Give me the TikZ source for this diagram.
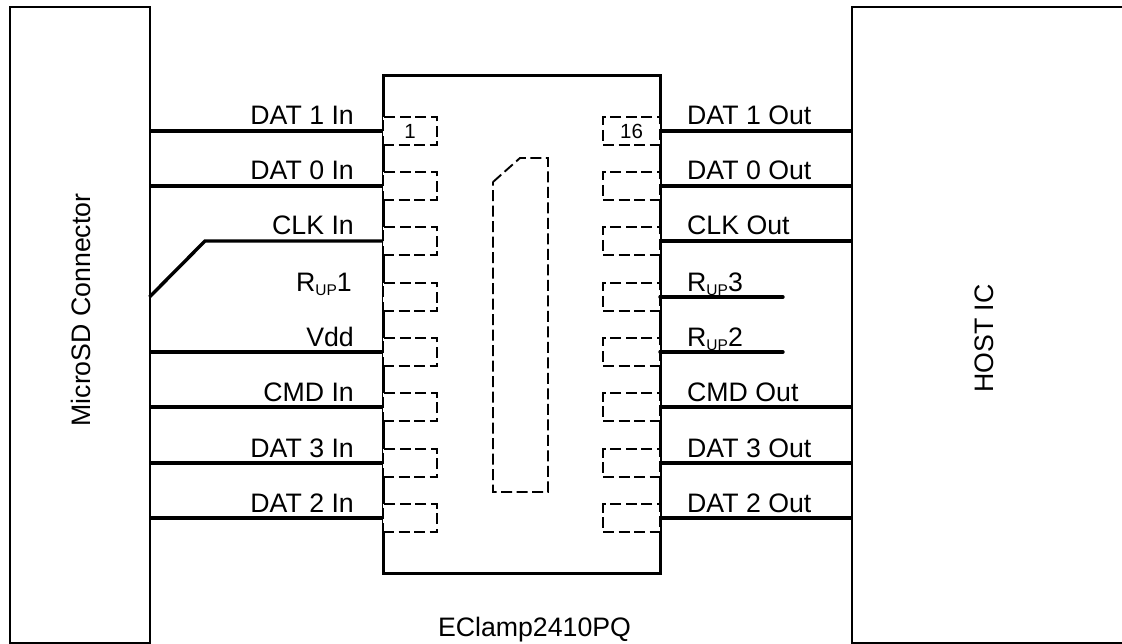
\documentclass[tikz,border=0pt]{standalone}
\usepackage{fontspec}
\setmainfont{Liberation Sans}
\usetikzlibrary{positioning,calc}
\tikzset{
    conn/.style={line width=2pt, inner sep=0pt, outer sep=0pt},
    chip/.style={draw, line width=3pt, inner sep=0pt, outer sep=0pt},
    dashline/.style={line width=1.9pt, dash pattern=on 11pt off 4.5pt},
    pad/.style={draw, fill=white, dashline, inner sep=0pt, outer sep=0pt,
        minimum height=28pt, font=\fontsize{20.5}{24}\selectfont},
    wire/.style={line width=3.4pt},
    lbl/.style={inner sep=0pt, font=\fontsize{26.7}{30}\selectfont}
}
\newcommand{\Rup}[1]{R\raisebox{-3.5pt}{\fontsize{15.5}{16}\selectfont UP}#1}
\begin{document}
\begin{tikzpicture}[x=1pt,y=-1pt]
    \useasboundingbox (0,0) rectangle (1122,644);

    % Connector and host
    \node[conn, draw, minimum width=140pt, minimum height=636pt] (micro) at (79.5,325) {};
    \node[conn, minimum width=270pt, minimum height=636pt] (host) at (987,325) {};
    \draw[conn] (host.north east) -- (host.north west) -- (host.south west) -- (host.south east);
    \node[lbl, rotate=90, anchor=base] (microname) at (90,310) {MicroSD Connector};
    \node[lbl, rotate=90, anchor=base] (hostname) at (993,338.5) {HOST IC};

    % Package
    \node[chip, minimum width=277pt, minimum height=497pt] (ic) at (521.5,324.5) {};
    \node[lbl, anchor=base] (icname) at (534.5,636) {EClamp2410PQ};

    % Exposed die
    \draw[dashline] (493,182) -- (520,158) -- (548,158) -- (548,492) -- (493,492) -- cycle;

    % Pads
    \foreach \i/\y/\txtl/\txtr in {1/131/1/16, 2/186//, 3/241//, 4/297//, 5/352//, 6/407//, 7/463//, 8/518//} {
        \node[pad, minimum width=54pt] (padl\i) at (410,\y) {\txtl};
        \node[pad, minimum width=57pt] (padr\i) at (631.5,\y) {\txtr};
    }

    % Left side
    \foreach \i/\txt in {1/DAT 1 In, 2/DAT 0 In, 5/Vdd, 6/CMD In, 7/DAT 3 In, 8/DAT 2 In} {
        \draw[wire] (micro.east |- padl\i.west) -- (padl\i.west);
        \node[lbl, anchor=base east] (inl\i) at ($(354,0 |- padl\i.west)+(0,-6)$) {\txt};
    }
    \draw[wire] (micro.east |- padl4.west) -- (205,241) -- (padl3.west);
    \node[lbl, anchor=base east] (inl3) at ($(354,0 |- padl3.west)+(0,-6)$) {CLK In};
    \node[lbl, anchor=base east] (inl4) at ($(352,0 |- padl4.west)+(0,-5)$) {\Rup{1}};

    % Right side
    \foreach \i/\txt in {1/DAT 1 Out, 2/DAT 0 Out, 3/CLK Out, 6/CMD Out, 7/DAT 3 Out, 8/DAT 2 Out} {
        \draw[wire] (padr\i.east) -- (host.west |- padr\i.east);
        \node[lbl, anchor=base west] (outl\i) at ($(687,0 |- padr\i.east)+(0,-6)$) {\txt};
    }
    \foreach \i/\n in {4/3, 5/2} {
        \coordinate (end\i) at (783,0 |- padr\i.east);
        \draw[wire, line cap=round] (padr\i.east) -- (end\i);
        \node[lbl, anchor=base west] (outl\i) at ($(687,0 |- padr\i.east)+(0,-5)$) {\Rup{\n}};
    }
\end{tikzpicture}
\end{document}
